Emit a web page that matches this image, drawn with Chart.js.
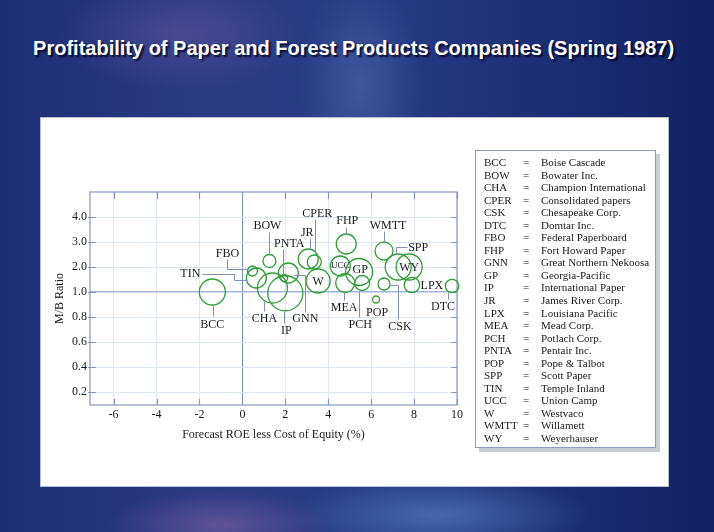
<!DOCTYPE html>
<html>
<head>
<meta charset="utf-8">
<script src="https://cdn.jsdelivr.net/npm/chart.js@4.4.1/dist/chart.umd.min.js"></script>
<style>
  html, body { margin: 0; padding: 0; }
  body {
    width: 714px; height: 532px; overflow: hidden; position: relative;
    background:
      radial-gradient(ellipse 120px 55px at 180px 35px, rgba(130,105,170,0.35), transparent),
      radial-gradient(ellipse 60px 110px at 360px 85px, rgba(110,140,205,0.35), transparent),
      radial-gradient(ellipse 110px 35px at 220px 525px, rgba(150,105,165,0.5), transparent),
      radial-gradient(ellipse 150px 40px at 440px 515px, rgba(95,135,210,0.6), transparent),
      linear-gradient(90deg, #1d2f76 0%, #2a3b85 30%, #263a85 55%, #182a6e 85%, #112362 100%);
  }
  #title {
    position: absolute; left: 0; top: 37px; width: 714px; text-align: center;
    color: #fff; font: bold 20px "Liberation Sans", Arial, sans-serif;
    text-shadow: 2px 2px 2px rgba(0,0,25,0.85); white-space: nowrap;
  }
  #title span { display: inline-block; transform-origin: center; }
  #panel {
    position: absolute; left: 40px; top: 117px; width: 629px; height: 370px;
    background: #fff; box-sizing: border-box; border: 1px solid #b9bfcc;
  }
  #chartBox { position: absolute; left: -1px; top: -1px; width: 440px; height: 340px; }
  #legend {
    position: absolute; left: 434px; top: 32px; width: 181px; height: 298px;
    box-sizing: border-box; border: 1px solid #8b9bc6; background: #fff;
    box-shadow: 4px 4px 0 #c9ccd6; padding: 5px 0 0 8px;
    font: 11px "Liberation Serif", "Times New Roman", serif; color: #1a1a1a;
  }
  #legend .row { display: grid; grid-template-columns: 39px 18px auto; height: 12.55px; line-height: 12.55px; white-space: nowrap; }
</style>
</head>
<body>
<div id="title"><span>Profitability of Paper and Forest Products Companies (Spring 1987)</span></div>
<div id="panel">
  <div id="chartBox"><canvas id="chart"></canvas></div>
  <div id="legend"></div>
</div>
<script>
// ── Data ────────────────────────────────────────────────────────────────────
const codes = ['BCC','BOW','CHA','CPER','CSK','DTC','FBO','FHP','GNN','GP','IP','JR',
               'LPX','MEA','PCH','PNTA','POP','SPP','TIN','UCC','W','WMTT','WY'];
const companyNames = ['Boise Cascade','Bowater Inc.','Champion International','Consolidated papers',
  'Chesapeake Corp.','Domtar Inc.','Federal Paperboard','Fort Howard Paper','Great Northern Nekoosa',
  'Georgia-Pacific','International Paper','James River Corp.','Louisiana Pacific','Mead Corp.',
  'Potlach Corp.','Pentair Inc.','Pope & Talbot','Scott Paper','Temple Inland','Union Camp',
  'Westvaco','Willamett','Weyerhauser'];
// forecast ROE less cost of equity (%)
const roeSpread  = [-1.40, 1.26, 1.40, 3.35, 6.60, 9.77, 0.47, 4.84, 2.14, 5.44, 2.00, 3.07,
                     7.90, 4.79, 5.58, 1.95, 6.23, 7.26, 0.65, 4.56, 3.53, 6.60, 7.77];
// market-to-book ratio
const mbRatio    = [1.00, 2.24, 1.16, 2.20, 1.32, 1.24, 1.84, 2.92, 1.76, 1.80, 0.99, 2.32,
                    1.28, 1.36, 1.36, 1.56, 0.94, 2.00, 1.56, 2.04, 1.44, 2.64, 2.00];
// relative company size (bubble radius)
const companySize = [13, 6.5, 15, 7, 6, 6.7, 5, 10, 10, 13.5, 17.5, 10,
                     7.7, 9.5, 7.5, 3.5, 3.5, 13, 10, 10, 12, 9, 13];
const xTicks = [-6, -4, -2, 0, 2, 4, 6, 8, 10];
const yTickLabels = ['0.2', '0.4', '0.6', '0.8', '1.0', '2.0', '3.0', '4.0'];

// broken M/B axis: 0.2 steps up to 1.0, whole units above
function mbToAxis(v) { return v <= 1 ? v / 0.2 : 5 + (v - 1); }

// ── Label placement (pixel offsets from bubble centre) ─────────────────────
const LABEL_LAYOUT = {
  BCC:  { dx: 0,   dy: 32,  path: [[1, 13], [1, 24]] },
  BOW:  { dx: -2,  dy: -36, path: [[0, -29], [0, -6]] },
  CHA:  { dx: -8,  dy: 30,  path: [[-8, 13], [-8, 23]] },
  CPER: { dx: 3,   dy: -49, path: [[1, -43], [1, -7]] },
  CSK:  { dx: 16,  dy: 42,  path: [[14, 35], [14, 1], [6, 1]] },
  DTC:  { dx: -9,  dy: 20,  path: [[-4, 6], [-4, 13]] },
  FBO:  { dx: -25, dy: -18, path: [[-25, -12], [-25, -2], [-4, -2]] },
  FHP:  { dx: 1,   dy: -24, path: [[0, -17], [0, -10]] },
  GNN:  { dx: 17,  dy: 45,  path: [[17, 39], [17, 2], [6, 2]] },
  GP:   { dx: 1,   dy: -3 },
  IP:   { dx: 1,   dy: 37,  path: [[-1, 18], [-1, 30]] },
  JR:   { dx: -1,  dy: -27, path: [[2, -21], [2, -10]] },
  LPX:  { dx: 20,  dy: 0 },
  MEA:  { dx: -1,  dy: 24,  path: [[-1, 9], [-1, 17]] },
  PCH:  { dx: -2,  dy: 41,  path: [[-3, 8], [-3, 34]] },
  PNTA: { dx: 5,   dy: -35, path: [[-1, -29], [-1, -4]] },
  POP:  { dx: 1,   dy: 12 },
  SPP:  { dx: 20,  dy: -20, path: [[9, -20], [-2, -20], [-2, -13]] },
  TIN:  { dx: -66, dy: -5,  path: [[-54, -4], [-22, -4], [-22, 2], [-9, 2]] },
  UCC:  { dx: 0,   dy: -1,  small: true },
  W:    { dx: 0,   dy: 0 },
  WMTT: { dx: 4,   dy: -26, path: [[0, -20], [0, -9]] },
  WY:   { dx: 0,   dy: 0 }
};

const FONT = '"Liberation Serif", "Times New Roman", serif';
const FRAME = '#8596c4';
const GRID = '#dce6f5';
const BUBBLE = '#2f9e36';
const LEADER = '#7f90b9';

Chart.defaults.font.family = FONT;
Chart.defaults.font.size = 12;
Chart.defaults.color = '#1a1a1a';

// ── Title fit ───────────────────────────────────────────────────────────────
(function fitTitle() {
  const s = document.querySelector('#title span');
  const w = s.getBoundingClientRect().width;
  s.style.transform = 'translateX(-3px) scaleX(' + (641 / w) + ')';
})();

// ── Legend ──────────────────────────────────────────────────────────────────
document.getElementById('legend').innerHTML = codes.map((c, i) =>
  `<div class="row"><span>${c}</span><span>=</span><span>${companyNames[i]}</span></div>`
).join('');

// ── Plugins ─────────────────────────────────────────────────────────────────
const frameTicks = {
  id: 'frameTicks',
  beforeDatasetsDraw(chart) {
    const { ctx, chartArea: a, scales } = chart;
    ctx.save();
    ctx.strokeStyle = FRAME;
    ctx.lineWidth = 1.2;
    ctx.strokeRect(a.left, a.top, a.right - a.left, a.bottom - a.top);
    ctx.beginPath();
    xTicks.forEach(v => {
      const x = Math.round(scales.x.getPixelForValue(v)) + 0.5;
      ctx.moveTo(x, a.top); ctx.lineTo(x, a.top + 7);
      ctx.moveTo(x, a.bottom); ctx.lineTo(x, a.bottom - 6);
    });
    yTickLabels.forEach((_, i) => {
      const y = Math.round(scales.y.getPixelForValue(i + 1)) + 0.5;
      ctx.moveTo(a.left - 2, y); ctx.lineTo(a.left + 6, y);
      ctx.moveTo(a.right, y); ctx.lineTo(a.right - 6, y);
    });
    ctx.stroke();
    ctx.restore();
  }
};

const bubbleLabels = {
  id: 'bubbleLabels',
  afterDatasetsDraw(chart) {
    const { ctx } = chart;
    const meta = chart.getDatasetMeta(0);
    ctx.save();
    meta.data.forEach((pt, i) => {
      const lay = LABEL_LAYOUT[codes[i]];
      if (!lay) return;
      if (lay.path) {
        ctx.strokeStyle = LEADER;
        ctx.lineWidth = 1;
        ctx.beginPath();
        lay.path.forEach(([dx, dy], k) => {
          const px = Math.round(pt.x + dx) + 0.5, py = Math.round(pt.y + dy) + 0.5;
          k ? ctx.lineTo(px, py) : ctx.moveTo(px, py);
        });
        ctx.stroke();
      }
      ctx.fillStyle = '#1a1a1a';
      ctx.font = (lay.small ? '9px ' : '12px ') + FONT;
      ctx.textAlign = 'center';
      ctx.textBaseline = 'middle';
      ctx.fillText(codes[i], pt.x + lay.dx, pt.y + lay.dy + 1);
    });
    ctx.restore();
  }
};

// ── Chart ───────────────────────────────────────────────────────────────────
new Chart(document.getElementById('chart'), {
  type: 'bubble',
  data: {
    datasets: [{
      label: 'Companies',
      data: codes.map((c, i) => ({ x: roeSpread[i], y: mbToAxis(mbRatio[i]), r: companySize[i] })),
      backgroundColor: 'rgba(255,255,255,0)',
      borderColor: BUBBLE,
      borderWidth: 1.3,
      hoverRadius: 0,
      clip: false
    }]
  },
  options: {
    responsive: true,
    maintainAspectRatio: false,
    animation: false,
    events: [],
    layout: { padding: { left: 0, top: 75, right: 23, bottom: 0 } },
    plugins: { legend: { display: false }, tooltip: { enabled: false } },
    scales: {
      x: {
        type: 'linear', min: -7.1, max: 10,
        afterBuildTicks: s => { s.ticks = xTicks.map(v => ({ value: v })); },
        afterFit: s => { s.height = 52; },
        ticks: { padding: 3, autoSkip: false, maxRotation: 0, callback: v => String(v) },
        grid: {
          drawTicks: false,
          color: c => (c.tick && c.tick.value === 0) ? '#6d8cc8' : GRID,
          lineWidth: 1
        },
        border: { display: false },
        title: {
          display: true, text: 'Forecast ROE less Cost of Equity (%)',
          padding: { top: 0, bottom: 15 }, font: { size: 12 }
        }
      },
      y: {
        type: 'linear', min: 0.48, max: 9,
        afterBuildTicks: s => { s.ticks = yTickLabels.map((_, i) => ({ value: i + 1 })); },
        afterFit: s => { s.width = 50; },
        ticks: { padding: 3, autoSkip: false, callback: v => yTickLabels[v - 1] || '' },
        grid: {
          drawTicks: false,
          color: c => (c.tick && c.tick.value === 5) ? '#9fb5de' : GRID,
          lineWidth: c => (c.tick && c.tick.value === 5) ? 1.6 : 1
        },
        border: { display: false },
        title: {
          display: true, text: 'M/B Ratio',
          padding: { top: 13, bottom: 0 }, font: { size: 12 }
        }
      }
    }
  },
  plugins: [frameTicks, bubbleLabels]
});
</script>
</body>
</html>
